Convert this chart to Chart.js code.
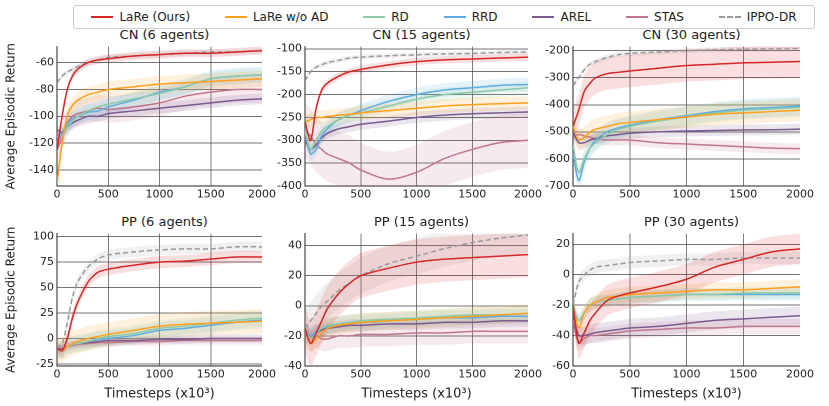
<!DOCTYPE html>
<html><head><meta charset="utf-8">
<script src="https://cdn.jsdelivr.net/npm/chart.js@4"></script>
<style>
body{margin:0;width:829px;height:406px;background:#fff;position:relative;overflow:hidden;font-family:"DejaVu Sans",sans-serif}
canvas{position:absolute}
#legend{position:absolute;left:73px;top:5px;width:740px;height:22px;border:1px solid #ccc;border-radius:3px;display:flex;align-items:center;justify-content:space-around;font-size:12px;color:#222}
#legend span{display:flex;align-items:center}
#legend i{display:inline-block;width:22px;height:0;margin-right:6px;border-top:2px solid}
.ttl{position:absolute;font-size:13px;color:#222;text-align:center}
</style></head><body>
<div id="legend"></div>
<script>
const X=[0,50,100,150,200,300,400,500,750,1000,1250,1500,1750,2000];
const SERIES=['LaRe (Ours)','LaRe w/o AD','RD','RRD','AREL','STAS','IPPO-DR'];
const COLORS=['#d62728','#ff9f1c','#8cc9a6','#5dade2','#7b5a8f','#c0758a','#999999'];
const TITLES=['CN (6 agents)','CN (15 agents)','CN (30 agents)','PP (6 agents)','PP (15 agents)','PP (30 agents)'];
const CN6=[[-125,-100,-80,-70,-65,-60,-58,-57,-55,-54,-53,-53,-52,-51],[-150,-120,-100,-92,-88,-84,-82,-80,-78,-76,-75,-74,-73,-72],[-120,-115,-108,-104,-100,-96,-93,-91,-87,-83,-78,-72,-70,-69],[-120,-112,-106,-102,-100,-97,-96,-93,-88,-82,-78,-72,-70,-69],[-110,-112,-108,-105,-103,-100,-100,-98,-96,-94,-92,-90,-88,-87],[-125,-115,-105,-100,-98,-96,-94,-95,-93,-90,-85,-82,-80,-80],[-75,-70,-67,-65,-63,-60,-58,-56,-55,-54,-53,-52,-52,-51]];
const CN15=[[-260,-300,-230,-190,-175,-160,-150,-145,-135,-128,-124,-122,-120,-118],[-260,-255,-250,-250,-248,-245,-243,-240,-235,-230,-225,-222,-220,-218],[-280,-320,-300,-280,-270,-255,-245,-240,-225,-210,-200,-195,-190,-185],[-280,-330,-320,-290,-275,-255,-245,-235,-215,-200,-190,-185,-180,-178],[-300,-320,-310,-295,-285,-275,-270,-265,-258,-250,-245,-242,-240,-238],[-280,-290,-310,-320,-330,-340,-350,-365,-385,-370,-340,-320,-305,-300],[-170,-150,-140,-135,-130,-125,-120,-118,-115,-113,-111,-110,-108,-107]];
const CN30=[[-480,-420,-350,-320,-300,-285,-280,-275,-265,-255,-250,-245,-243,-240],[-480,-530,-520,-500,-490,-480,-470,-465,-455,-445,-435,-430,-425,-420],[-550,-650,-600,-560,-540,-510,-490,-480,-460,-445,-430,-420,-415,-410],[-580,-680,-610,-560,-530,-500,-485,-475,-455,-440,-425,-415,-410,-405],[-500,-540,-540,-530,-525,-515,-510,-505,-500,-497,-495,-493,-492,-490],[-520,-510,-515,-520,-525,-530,-530,-530,-540,-545,-550,-555,-560,-562],[-330,-300,-270,-250,-240,-225,-215,-210,-205,-200,-197,-195,-193,-192]];
const PP6=[[-10,-12,0,20,35,55,65,68,72,75,76,78,80,80],[-10,-12,-8,-5,-3,0,2,4,8,12,14,15,16,17],[-10,-12,-8,-6,-5,-3,0,2,5,10,12,15,18,20],[-10,-12,-8,-6,-5,-3,-1,0,3,8,10,13,16,18],[-10,-10,-8,-6,-5,-4,-3,-2,-2,-1,-1,0,0,0],[-10,-10,-8,-7,-6,-5,-4,-4,-3,-3,-2,-2,-2,-2],[-10,-5,15,40,55,70,78,82,85,87,88,88,90,90]];
const PP15=[[-15,-25,-18,-10,-2,8,15,20,25,29,31,32,33,34],[-15,-25,-22,-18,-15,-13,-12,-11,-10,-9,-8,-7,-6,-5],[-15,-22,-18,-15,-13,-12,-11,-10,-9,-8,-7,-6,-6,-5],[-15,-20,-17,-15,-14,-12,-11,-11,-10,-9,-8,-8,-7,-7],[-15,-20,-18,-16,-15,-14,-13,-13,-12,-12,-11,-11,-10,-10],[-18,-22,-20,-22,-22,-20,-20,-19,-19,-18,-18,-17,-17,-17],[-15,-10,-5,0,3,10,15,20,28,33,38,42,45,47]];
const PP30=[[-20,-45,-38,-30,-25,-17,-14,-12,-8,-3,5,10,15,17],[-20,-35,-25,-20,-18,-15,-14,-13,-12,-11,-10,-10,-9,-8],[-20,-30,-25,-20,-18,-17,-16,-15,-14,-13,-13,-12,-12,-12],[-20,-30,-25,-20,-18,-17,-16,-15,-14,-13,-13,-13,-13,-13],[-25,-40,-40,-39,-38,-37,-36,-35,-34,-32,-30,-29,-28,-27],[-30,-45,-42,-40,-40,-39,-38,-37,-36,-35,-35,-34,-34,-34],[-20,-5,0,3,5,6,7,8,9,10,10,11,11,11]];
const SD_CN6=[3,6,5,6,4,10,2];
const SD_CN15=[8,15,15,15,12,60,5];
const SD_CN30=[60,40,35,35,20,20,10];
const SD_PP6=[6,12,8,8,4,4,5];
const SD_PP15=[15,6,5,5,4,8,12];
const SD_PP30=[10,5,4,4,6,5,4];
const PANELS=[[CN6,SD_CN6],[CN15,SD_CN15],[CN30,SD_CN30],[PP6,SD_PP6],[PP15,SD_PP15],[PP30,SD_PP30]];
const YR=[[-152,-48,20],[-400,-95,50],[-700,-185,100],[-27,103,25],[-40,48,20],[-60,27,20]];

const leg=document.getElementById('legend');
SERIES.forEach((s,i)=>{const sp=document.createElement('span');sp.innerHTML=`<i style="border-top-color:${COLORS[i]};${i==6?'border-top-style:dashed':''}"></i>${s}`;leg.appendChild(sp);});

const plotL=[57,305,573],plotR=[272,538,810];
const rows=[{top:43,ttl:27,bottom:206},{top:230,ttl:214,bottom:406}];
function hexA(h,a){const n=parseInt(h.slice(1),16);return `rgba(${n>>16},${(n>>8)&255},${n&255},${a})`;}
PANELS.forEach(([data,sd],p)=>{
  const r=p<3?0:1,c=p%3;const row=rows[r];
  const yw=c==0?57:40;
  const left=plotL[c]-yw, width=plotR[c]-left+6, height=row.bottom-row.top+6;
  const t=document.createElement('div');t.className='ttl';t.textContent=TITLES[p];
  t.style.left=plotL[c]+'px';t.style.width=(plotR[c]-plotL[c])+'px';t.style.top=row.ttl+'px';
  document.body.appendChild(t);
  const cv=document.createElement('canvas');
  cv.style.left=left+'px';cv.style.top=(row.top-6)+'px';cv.style.width=width+'px';cv.style.height=height+'px';
  document.body.appendChild(cv);
  const ds=[];
  data.forEach((ys,i)=>{
    ds.push({data:X.map((x,k)=>({x,y:ys[k]+sd[i]})),borderWidth:0,pointRadius:0,fill:false,tension:0.3,order:10});
    ds.push({data:X.map((x,k)=>({x,y:ys[k]-sd[i]})),borderWidth:0,pointRadius:0,fill:'-1',backgroundColor:hexA(COLORS[i],0.15),tension:0.3,order:10});
  });
  data.forEach((ys,i)=>{
    ds.push({label:SERIES[i],data:X.map((x,k)=>({x,y:ys[k]})),borderColor:COLORS[i],borderWidth:1.5,borderDash:i==6?[5,3]:[],pointRadius:0,fill:false,tension:0.3,order:i==0?1:2});
  });
  const [ymin,ymax,step]=YR[p];
  new Chart(cv,{type:'line',data:{datasets:ds},options:{
    responsive:false,devicePixelRatio:2,animation:false,
    layout:{padding:{right:6,top:6,bottom:0,left:0}},
    plugins:{legend:{display:false},tooltip:{enabled:false}},
    scales:{
      x:{type:'linear',min:0,max:2000,ticks:{stepSize:500,color:'#222',font:{size:11,family:'DejaVu Sans'},maxRotation:0,padding:2,callback:v=>String(v)},
        grid:{color:'#444',borderDash:[1.5,2],drawTicks:false,lineWidth:ctx=>(ctx.tick.value>0&&ctx.tick.value<2000)?0.7:0},
        border:{display:true,color:'#222',width:1},
        afterFit:a=>{a.height=r==0?20:40;},
        title:{display:r==1,text:'Timesteps (x10³)',color:'#222',font:{size:13,family:'DejaVu Sans'},padding:{top:0}}},
      y:{min:ymin,max:ymax,ticks:{stepSize:step,color:'#222',font:{size:11,family:'DejaVu Sans'},padding:3,callback:v=>String(v)},
        afterBuildTicks:a=>{const tk=[];for(let v=Math.ceil(ymin/step)*step;v<=ymax;v+=step)tk.push({value:v});a.ticks=tk;},
        afterFit:a=>{a.width=yw;},
        grid:{color:'#444',borderDash:[1.5,2],drawTicks:false,lineWidth:0.7},
        border:{display:true,color:'#222',width:1},
        title:{display:c==0,text:'Average Episodic Return',color:'#222',font:{size:12,family:'DejaVu Sans'},padding:{bottom:0}}}
    }}});
});
</script></body></html>
